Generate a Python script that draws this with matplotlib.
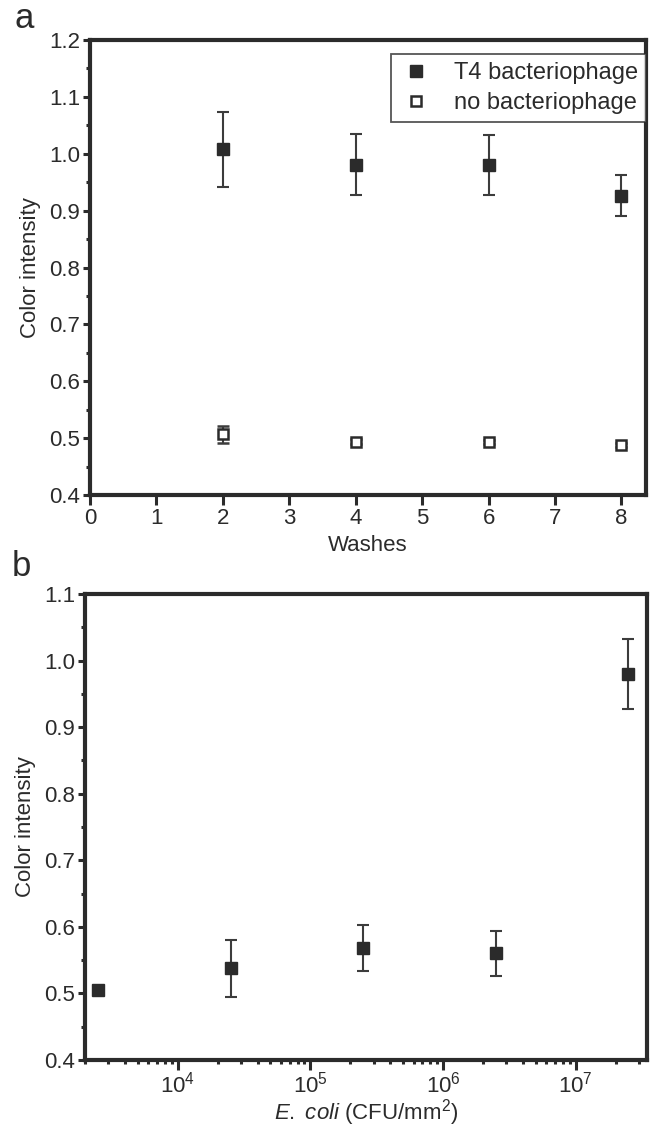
import matplotlib
matplotlib.use("Agg")
import matplotlib.pyplot as plt
from matplotlib.ticker import MultipleLocator, LogLocator, NullFormatter, FormatStrFormatter
from matplotlib.lines import Line2D

plt.rcParams['font.family'] = ['Liberation Sans', 'DejaVu Sans']
plt.rcParams['mathtext.fontset'] = 'custom'
plt.rcParams['mathtext.rm'] = 'Liberation Sans'
plt.rcParams['mathtext.it'] = 'Liberation Sans:italic'

# ---- data: panel a ----
washes = [2, 4, 6, 8]
t4_mean = [1.008, 0.981, 0.980, 0.926]
t4_err = [0.066, 0.053, 0.053, 0.036]
nophage_mean = [0.507, 0.494, 0.493, 0.488]
nophage_err = [0.015, 0.004, 0.004, 0.004]

# ---- data: panel b ----
ecoli = [2.5e3, 2.5e4, 2.5e5, 2.5e6, 2.5e7]
ecoli_mean = [0.505, 0.538, 0.568, 0.560, 0.980]
ecoli_err = [0.003, 0.043, 0.035, 0.034, 0.053]

W, H = 650, 1131
fig = plt.figure(figsize=(W / 100, H / 100), dpi=100)
fig.patch.set_facecolor('white')

def ax_rect(x0, y0, x1, y1):
    return [x0 / W, 1 - y1 / H, (x1 - x0) / W, (y1 - y0) / H]

axa = fig.add_axes(ax_rect(90, 40, 646, 495))
axb = fig.add_axes(ax_rect(85, 594, 647, 1060))

dark = '#2b2b2b'
ecol = '#3c3c3c'
txt = '#2b2b2b'
spine_lw = 3.0
fs = 16

for ax in (axa, axb):
    for s in ax.spines.values():
        s.set_linewidth(spine_lw)
        s.set_color(dark)
    ax.tick_params(which='major', direction='out', length=5, width=2.2,
                   color=dark, labelsize=fs, labelcolor=txt, pad=2,
                   top=False, right=False)
    ax.tick_params(which='minor', direction='out', length=3, width=2.2,
                   color=dark, top=False, right=False)

# ---- panel a ----
axa.errorbar(washes, t4_mean, yerr=t4_err, fmt='s', ms=8.5, mfc=dark, mec=dark,
             ecolor=ecol, elinewidth=1.5, capsize=4.5, capthick=1.5, zorder=3)
axa.errorbar(washes, nophage_mean, yerr=nophage_err, fmt='s', ms=7, mfc='white',
             mec=dark, mew=1.8, ecolor=ecol, elinewidth=1.5, capsize=4.5,
             capthick=1.5, zorder=3)
axa.set_xlim(0, 8.37)
axa.set_ylim(0.4, 1.2)
axa.xaxis.set_major_locator(MultipleLocator(1))
axa.yaxis.set_major_locator(MultipleLocator(0.1))
axa.yaxis.set_minor_locator(MultipleLocator(0.05))
axa.tick_params(axis='x', which='minor', bottom=False)
axa.tick_params(axis='x', which='major', length=7, pad=2)
axa.yaxis.set_major_formatter(FormatStrFormatter('%.1f'))
axa.set_xlabel('Washes', fontsize=fs, color=txt, labelpad=5)
axa.set_ylabel('Color intensity', fontsize=fs, color=txt, labelpad=6)

handles = [
    Line2D([], [], ls='none', marker='s', ms=8.5, mfc=dark, mec=dark),
    Line2D([], [], ls='none', marker='s', ms=7, mfc='white', mec=dark, mew=1.8),
]
leg = axa.legend(handles, ['T4 bacteriophage', 'no bacteriophage'],
                 loc='upper right', bbox_to_anchor=(1.0, 0.97),
                 fontsize=fs + 1, frameon=True, fancybox=False, edgecolor=dark,
                 borderpad=0.35, handletextpad=0.9, labelspacing=0.35,
                 handlelength=1.4, borderaxespad=0.0)
leg.get_frame().set_linewidth(1.3)
for t in leg.get_texts():
    t.set_color(txt)

# ---- panel b ----
axb.errorbar(ecoli, ecoli_mean, yerr=ecoli_err, fmt='s', ms=8.5, mfc=dark,
             mec=dark, ecolor=ecol, elinewidth=1.5, capsize=4.5, capthick=1.5,
             zorder=3)
axb.set_xscale('log')
axb.set_xlim(2.0e3, 3.45e7)
axb.set_ylim(0.4, 1.1)
axb.xaxis.set_major_locator(LogLocator(base=10, numticks=20))
axb.xaxis.set_minor_locator(LogLocator(base=10, subs=range(2, 10), numticks=50))
axb.xaxis.set_minor_formatter(NullFormatter())
axb.tick_params(axis='x', which='major', length=7, pad=1)
axb.yaxis.set_major_locator(MultipleLocator(0.1))
axb.yaxis.set_minor_locator(MultipleLocator(0.05))
axb.yaxis.set_major_formatter(FormatStrFormatter('%.1f'))
axb.set_ylabel('Color intensity', fontsize=fs, color=txt, labelpad=6)

fig.text(0.5 * (85 + 647) / W, 3 / H, r'$\mathit{E.\ coli}$ (CFU/mm$^2$)',
         fontsize=fs, color=txt, ha='center', va='bottom')

fig.text(14 / W, 1 - 18 / H, 'a', fontsize=25, color=txt, va='center', ha='left')
fig.text(12 / W, 1 - 566 / H, 'b', fontsize=25, color=txt, va='center', ha='left')

fig.savefig('out.png', dpi=100, facecolor='white')
